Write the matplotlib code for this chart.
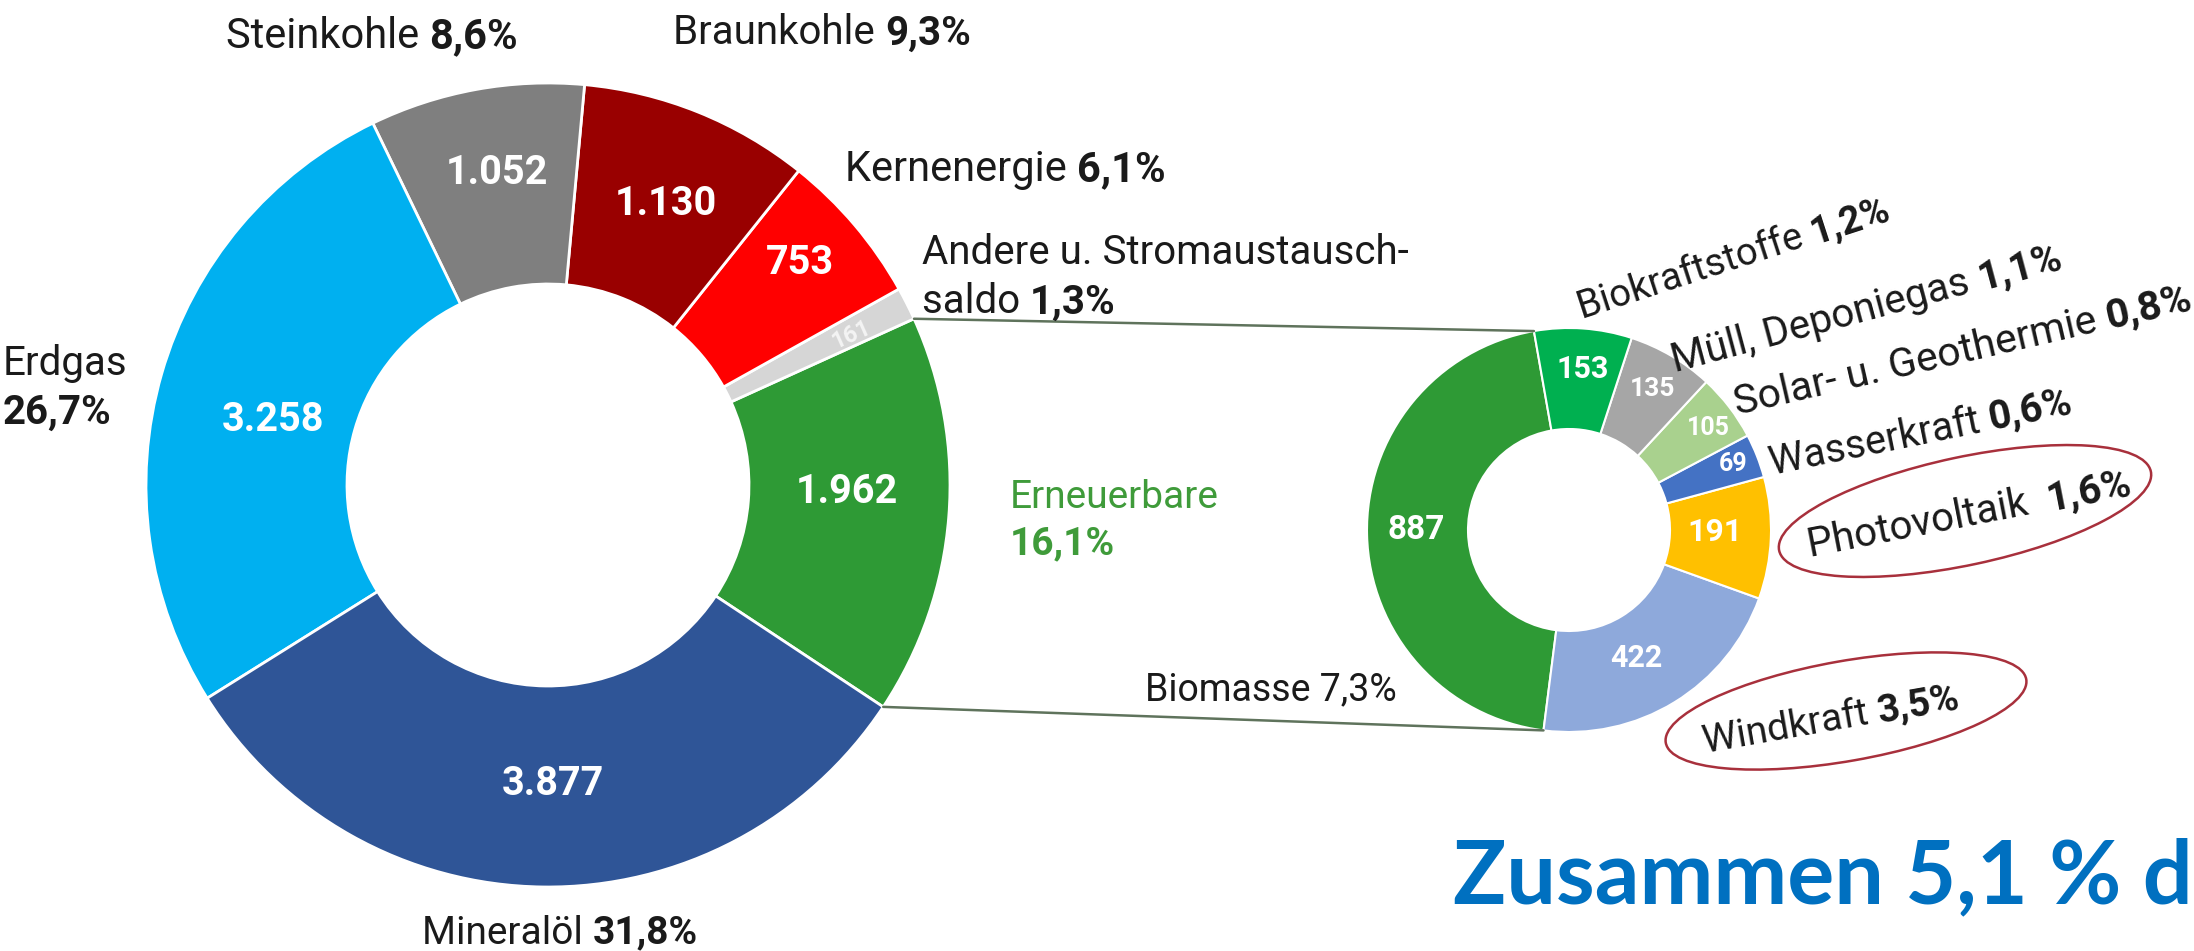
import matplotlib
matplotlib.use('Agg')
import matplotlib.pyplot as plt
from matplotlib.patches import Ellipse, ConnectionPatch
from matplotlib.transforms import IdentityTransform
from matplotlib.font_manager import FontProperties, findfont
import numpy as np
import os

W, H = 2194, 951
DPI = 100

# ---------------- data ----------------
main_labels = ['Erneuerbare', 'Andere u. Stromaustausch-saldo', 'Kernenergie',
               'Braunkohle', 'Steinkohle', 'Erdgas', 'Mineralöl']
main_values = [1962, 161, 753, 1130, 1052, 3258, 3877]
main_pct = ['16,1%', '1,3%', '6,1%', '9,3%', '8,6%', '26,7%', '31,8%']
main_colors = ['#2E9A35', '#D6D6D6', '#FF0000', '#990000', '#7F7F7F', '#00B0F0', '#2F5597']

ren_labels = ['Biomasse', 'Windkraft', 'Photovoltaik', 'Wasserkraft',
              'Solar- u. Geothermie', 'Müll, Deponiegas', 'Biokraftstoffe']
ren_values = [887, 422, 191, 69, 105, 135, 153]
ren_pct = ['7,3%', '3,5%', '1,6%', '0,6%', '0,8%', '1,1%', '1,2%']
ren_colors = ['#2E9A35', '#8EA9DB', '#FFC000', '#4472C4', '#A9D18E', '#A6A6A6', '#00B050']

title_text = 'Zusammen 5,1 % d'

LABEL_FONT = ['Roboto', 'DejaVu Sans']
NUM_FONT = ['Roboto', 'DejaVu Sans']
TXT = '#1A1A1A'
GREEN_TXT = '#3F9B3A'


def fmt_num(v):
    return f'{v:,}'.replace(',', '.')


fig = plt.figure(figsize=(W / DPI, H / DPI), dpi=DPI)
fig.patch.set_facecolor('white')
renderer = fig.canvas.get_renderer()
PAD = 1.04


def donut_axes(cx, cy, r):
    R = r * PAD
    return fig.add_axes([(cx - R) / W, (H - cy - R) / H, 2 * R / W, 2 * R / H])


# ---------------- main donut ----------------
ax1 = donut_axes(548, 485, 402)
w1, _ = ax1.pie(main_values, colors=main_colors, startangle=-33.5, counterclock=True,
                radius=1, wedgeprops=dict(width=0.5, edgecolor='white', linewidth=2))
ax1.set_xlim(-PAD, PAD)
ax1.set_ylim(-PAD, PAD)
ax1.set_aspect('equal')
ax1.axis('off')

# ---------------- renewables donut ----------------
ax2 = donut_axes(1569, 530, 202)
w2, _ = ax2.pie(ren_values, colors=ren_colors, startangle=100, counterclock=True,
                radius=1, wedgeprops=dict(width=0.5, edgecolor='white', linewidth=1.5))
ax2.set_xlim(-PAD, PAD)
ax2.set_ylim(-PAD, PAD)
ax2.set_aspect('equal')
ax2.axis('off')

# connecting lines (from the Erneuerbare wedge to the renewables donut)
ern = w1[0]
bio = w2[0]
for ta, tb in [(ern.theta2, bio.theta1), (ern.theta1, bio.theta2)]:
    a = np.deg2rad(ta)
    b = np.deg2rad(tb)
    cp = ConnectionPatch(xyA=(np.cos(a), np.sin(a)), coordsA=ax1.transData,
                         xyB=(np.cos(b), np.sin(b)), coordsB=ax2.transData,
                         color='#5F735C', lw=1.8)
    fig.add_artist(cp)


# ---------------- text helpers ----------------
def text_width(s, size, weight, family):
    t = fig.text(0, 0, s + '|', fontsize=size, fontweight=weight, family=family)
    w_all = t.get_window_extent(renderer).width
    t.set_text('|')
    w_bar = t.get_window_extent(renderer).width
    t.remove()
    return w_all - w_bar


def mixed(x, y, parts, size, rot=0.0, ha='left', family=LABEL_FONT):
    """x, y: image pixel coords (y downward) of the left/center point at mid cap height."""
    widths = [text_width(s, size, w, family) for s, w, c in parts]
    total = sum(widths)
    th = np.deg2rad(rot)
    em = size * DPI / 72.0
    d = 0.355 * em
    bx = x + d * np.sin(th)
    by = (H - y) - d * np.cos(th)
    cur = {'left': 0.0, 'center': -total / 2.0, 'right': -total}[ha]
    for (s, w, c), wd in zip(parts, widths):
        X = bx + cur * np.cos(th)
        Y = by + cur * np.sin(th)
        fig.text(X, Y, s, transform=IdentityTransform(), fontsize=size, fontweight=w,
                 color=c, family=family, rotation=rot, rotation_mode='anchor',
                 ha='left', va='baseline')
        cur += wd


def num(x, y, s, size, color='white', rot=0.0):
    fig.text(x, H - y, s, transform=IdentityTransform(), fontsize=size, fontweight='bold',
             color=color, family=NUM_FONT, ha='center', va='center', rotation=rot,
             rotation_mode='anchor')


# main donut labels
mixed(372, 33, [('Steinkohle ', 'normal', TXT), (main_pct[4], 'bold', TXT)], 30, ha='center')
mixed(822, 30, [('Braunkohle ', 'normal', TXT), (main_pct[3], 'bold', TXT)], 29, ha='center')
mixed(845, 166, [('Kernenergie ', 'normal', TXT), (main_pct[2], 'bold', TXT)], 30)
mixed(922, 250, [('Andere u. Stromaustausch-', 'normal', TXT)], 29)
mixed(922, 299, [('saldo ', 'normal', TXT), (main_pct[1], 'bold', TXT)], 29)
mixed(3, 361, [('Erdgas', 'normal', TXT)], 29)
mixed(3, 409, [(main_pct[5], 'bold', TXT)], 29)
mixed(1010, 494, [('Erneuerbare', 'normal', GREEN_TXT)], 28)
mixed(1010, 541, [(main_pct[0], 'bold', GREEN_TXT)], 28)
mixed(560, 930, [('Mineralöl ', 'normal', TXT), (main_pct[6], 'bold', TXT)], 28, ha='center')

# main donut values
num(497, 173, fmt_num(main_values[4]), 28.5)
num(666, 204, fmt_num(main_values[3]), 28.5)
num(800, 263, fmt_num(main_values[2]), 28.5)
num(851, 335, fmt_num(main_values[1]), 17, color='#F4F4F4', rot=24)
num(273, 420, fmt_num(main_values[5]), 28.5)
num(847, 492, fmt_num(main_values[0]), 28.5)
num(553, 784, fmt_num(main_values[6]), 28.5)

# renewables values
num(1416, 530, fmt_num(ren_values[0]), 24)
num(1636, 658, fmt_num(ren_values[1]), 22)
num(1715, 532, fmt_num(ren_values[2]), 23)
num(1733, 464, fmt_num(ren_values[3]), 18)
num(1708, 428, fmt_num(ren_values[4]), 18)
num(1652, 389, fmt_num(ren_values[5]), 19)
num(1583, 369, fmt_num(ren_values[6]), 22)

# renewables labels (rotated)
mixed(1145, 687, [('Biomasse ' + ren_pct[0], 'normal', TXT)], 27)
mixed(1733, 256, [('Biokraftstoffe ', 'normal', TXT), (ren_pct[6], 'bold', TXT)], 27.5, rot=18, ha='center')
mixed(1866, 306, [('Müll, Deponiegas ', 'normal', TXT), (ren_pct[5], 'bold', TXT)], 29, rot=15, ha='center')
mixed(1962, 348, [('Solar- u. Geothermie ', 'normal', TXT), (ren_pct[4], 'bold', TXT)], 29.5, rot=13, ha='center')
mixed(1920, 430, [('Wasserkraft ', 'normal', TXT), (ren_pct[3], 'bold', TXT)], 28.5, rot=11.5, ha='center')
mixed(1969, 512, [('Photovoltaik  ', 'normal', TXT), (ren_pct[2], 'bold', TXT)], 29, rot=11, ha='center')
mixed(1831, 717, [('Windkraft ', 'normal', TXT), (ren_pct[1], 'bold', TXT)], 28, rot=10, ha='center')

# red highlight ellipses
for (cx, cy, ew, eh, ang) in [(1965, 511, 380, 108, 12), (1846, 711, 366, 100, 10)]:
    e = Ellipse((cx, H - cy), ew, eh, angle=ang, transform=IdentityTransform(),
                fill=False, edgecolor='#A8303C', lw=1.8)
    fig.add_artist(e)

# big blue caption (bold humanist face, fitted to reach the right edge)
TARGET_W = 740.0
TITLE_FAM = 'DejaVu Sans'
for fam in ['Lato', 'Open Sans', 'Noto Sans', 'Liberation Sans']:
    try:
        path = findfont(FontProperties(family=fam, weight='bold'), fallback_to_default=False)
    except Exception:
        continue
    if 'bold' in os.path.basename(path).lower():
        TITLE_FAM = fam
        break
fp = FontProperties(family=[TITLE_FAM, 'DejaVu Sans'], weight='bold', size=60)
wt, ht, dt = renderer.get_text_width_height_descent(title_text, fp, ismath=False)
fig.text(1453, H - 903, title_text, transform=IdentityTransform(),
         fontsize=60 * TARGET_W / wt, fontweight='bold', color='#0070C0',
         family=[TITLE_FAM, 'DejaVu Sans'], ha='left', va='baseline')

fig.savefig('out.png', dpi=DPI, facecolor='white')
